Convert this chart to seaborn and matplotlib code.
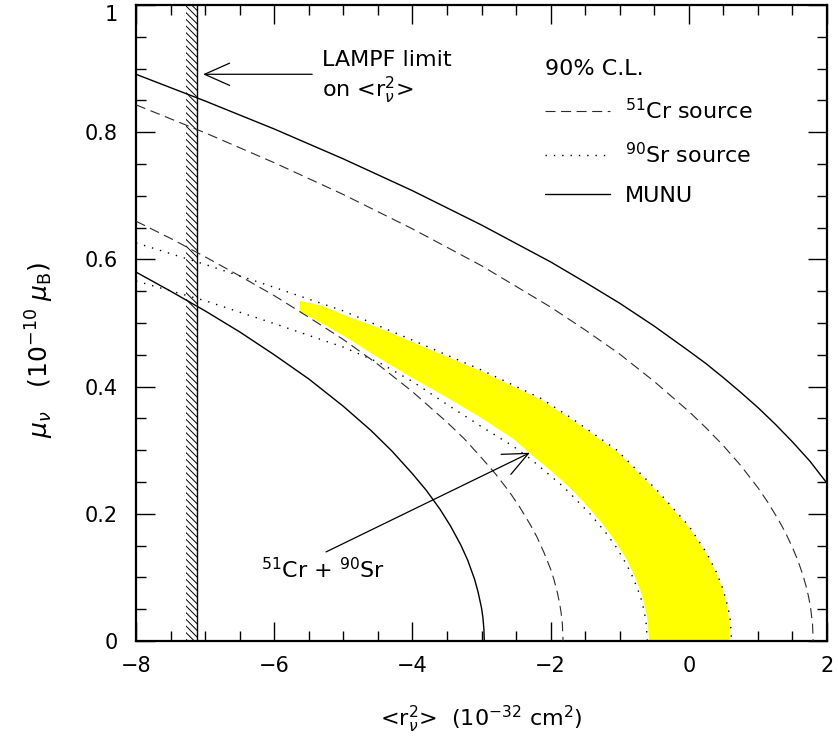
import numpy as np
import matplotlib
matplotlib.use('Agg')
import matplotlib.pyplot as plt
import seaborn as sns
from matplotlib.ticker import MultipleLocator, FixedLocator, FixedFormatter

# Curves (x = <r^2>, y = mu_nu)
CR_OUTER_X = [-8, -7, -6, -5, -4, -3, -2, -1.5, -1, -0.5, 0, 0.25, 0.5, 0.75, 1.0, 1.15,
              1.3, 1.4, 1.5, 1.58, 1.65, 1.7, 1.73, 1.76, 1.79, 1.8]
CR_OUTER_Y = [0.843, 0.799, 0.752, 0.702, 0.648, 0.590, 0.525, 0.489, 0.451, 0.408, 0.361,
              0.335, 0.307, 0.276, 0.241, 0.217, 0.190, 0.170, 0.147, 0.126, 0.104, 0.085,
              0.071, 0.054, 0.027, 0.0]
CR_INNER_X = [-8, -7.5, -7, -6.5, -6, -5.5, -5, -4.5, -4, -3.5, -3.25, -3, -2.8, -2.6,
              -2.45, -2.3, -2.2, -2.1, -2.0, -1.95, -1.9, -1.87, -1.85, -1.83, -1.82]
CR_INNER_Y = [0.660, 0.633, 0.604, 0.574, 0.543, 0.509, 0.474, 0.435, 0.392, 0.344, 0.318,
              0.288, 0.263, 0.235, 0.211, 0.184, 0.164, 0.140, 0.113, 0.096, 0.075, 0.059,
              0.046, 0.027, 0.0]
SR_UPPER_X = [-8, -7, -6, -5, -4, -3, -2.15, -1.72, -1.04, -0.46, 0.0, 0.26, 0.4, 0.5,
              0.57, 0.6, 0.62]
SR_UPPER_Y = [0.626, 0.592, 0.556, 0.519, 0.473, 0.426, 0.382, 0.352, 0.300, 0.237,
              0.181, 0.138, 0.108, 0.080, 0.051, 0.033, 0.0]
SR_LOWER_X = [-8, -7, -6, -5, -4.47, -4, -3.5, -3, -2.54, -2.3, -1.82, -1.43, -1.2,
              -1.04, -0.9, -0.8, -0.7, -0.65, -0.62, -0.6]
SR_LOWER_Y = [0.566, 0.535, 0.499, 0.462, 0.437, 0.408, 0.372, 0.337, 0.306, 0.287,
              0.243, 0.200, 0.170, 0.146, 0.120, 0.098, 0.070, 0.049, 0.031, 0.0]
MUNU_OUTER_X = [-8, -7, -6, -5, -4, -3, -2, -1.5, -1, -0.5, 0, 0.25, 0.5, 0.75, 1, 1.25,
                1.5, 1.75, 2]
MUNU_OUTER_Y = [0.891, 0.849, 0.805, 0.758, 0.708, 0.654, 0.596, 0.564, 0.531, 0.495,
                0.456, 0.436, 0.414, 0.391, 0.367, 0.341, 0.313, 0.283, 0.248]
MUNU_INNER_X = [-8, -7.5, -7, -6.5, -6, -5.5, -5, -4.6, -4.3, -4, -3.8, -3.6, -3.45, -3.3,
                -3.2, -3.1, -3.05, -3.0, -2.98, -2.965, -2.96]
MUNU_INNER_Y = [0.580, 0.550, 0.519, 0.486, 0.450, 0.412, 0.369, 0.331, 0.299, 0.263,
                0.237, 0.207, 0.181, 0.151, 0.127, 0.097, 0.077, 0.052, 0.037, 0.018, 0.0]

# combined 51Cr + 90Sr region (yellow)
BAND_TOP_X = [-5.63, -5.3, -4.95, -4.5, -4, -3, -2.15, -1.72, -1.04, -0.46, 0, 0.26,
              0.4, 0.5, 0.55, 0.58, 0.59]
BAND_TOP_Y = [0.535, 0.527, 0.511, 0.493, 0.470, 0.424, 0.380, 0.350, 0.298, 0.235,
              0.179, 0.136, 0.106, 0.078, 0.055, 0.035, 0.0]
BAND_LOW_X = [-0.576, -0.6, -0.65, -0.7, -0.8, -0.9, -1.04, -1.24, -1.5, -1.72, -2.0,
              -2.3, -2.54, -3.02, -3.5, -3.99, -4.47, -4.95, -5.3, -5.63]
BAND_LOW_Y = [0.0, 0.035, 0.061, 0.079, 0.106, 0.128, 0.153, 0.183, 0.216, 0.241, 0.268,
              0.295, 0.318, 0.352, 0.383, 0.413, 0.444, 0.477, 0.499, 0.518]

LAMPF_BAND = (-7.27, -7.12)

XTICKS = [-8, -6, -4, -2, 0, 2]
XTICK_LABELS = ['\u22128', '\u22126', '\u22124', '\u22122', '0', '2']
YTICKS = [0, 0.2, 0.4, 0.6, 0.8, 1.0]
YTICK_LABELS = ['0', '0.2', '0.4', '0.6', '0.8', '1']

sns.set_style('ticks')
plt.rcParams['font.family'] = ['DejaVu Sans']
plt.rcParams['mathtext.fontset'] = 'dejavusans'
plt.rcParams['hatch.linewidth'] = 0.7
for key in ['text.color', 'axes.labelcolor', 'xtick.color', 'ytick.color',
            'axes.edgecolor']:
    plt.rcParams[key] = 'black'

fig = plt.figure(figsize=(8.38, 7.51), dpi=100)
ax = fig.add_axes([0.1623, 0.1465, 0.8246, 0.8469])

# yellow allowed region
ax.fill(BAND_TOP_X + BAND_LOW_X, BAND_TOP_Y + BAND_LOW_Y, color='#ffff00', lw=0, zorder=1)

dash = (0, (9, 5))
dot = (0, (1, 5))
gray = '#2a2a2a'
sns.lineplot(x=CR_OUTER_X, y=CR_OUTER_Y, ax=ax, color=gray, lw=0.8, linestyle=dash,
             sort=False, estimator=None, zorder=3)
sns.lineplot(x=CR_INNER_X, y=CR_INNER_Y, ax=ax, color=gray, lw=0.8, linestyle=dash,
             sort=False, estimator=None, zorder=3)
sns.lineplot(x=SR_UPPER_X, y=SR_UPPER_Y, ax=ax, color='black', lw=1.0, linestyle=dot,
             sort=False, estimator=None, zorder=3)
sns.lineplot(x=SR_LOWER_X, y=SR_LOWER_Y, ax=ax, color='black', lw=1.0, linestyle=dot,
             sort=False, estimator=None, zorder=3)
sns.lineplot(x=MUNU_OUTER_X, y=MUNU_OUTER_Y, ax=ax, color='black', lw=1.0,
             sort=False, estimator=None, zorder=3)
sns.lineplot(x=MUNU_INNER_X, y=MUNU_INNER_Y, ax=ax, color='black', lw=1.0,
             sort=False, estimator=None, zorder=3)
lines = ax.get_lines()

# LAMPF limit: hatched band
ax.axvspan(LAMPF_BAND[0], LAMPF_BAND[1], fill=False, hatch='\\' * 5, lw=0,
           edgecolor='black', zorder=2)
ax.axvline(LAMPF_BAND[1], color='black', lw=1.0, zorder=2)

ax.set_xlim(-8, 2)
ax.set_ylim(0, 1)
ax.xaxis.set_major_locator(FixedLocator(XTICKS))
ax.xaxis.set_major_formatter(FixedFormatter(XTICK_LABELS))
ax.yaxis.set_major_locator(FixedLocator(YTICKS))
ax.yaxis.set_major_formatter(FixedFormatter(YTICK_LABELS))
ax.xaxis.set_minor_locator(MultipleLocator(0.5))
ax.yaxis.set_minor_locator(MultipleLocator(0.05))
ax.tick_params(which='both', direction='in', top=True, right=True, width=1.0,
               color='black')
ax.tick_params(which='major', length=14, labelsize=15)
ax.tick_params(axis='y', which='major', pad=13)
ax.tick_params(axis='x', which='major', pad=11)
ax.tick_params(which='minor', length=7)
for sp in ax.spines.values():
    sp.set_linewidth(1.6)
# keep the top "1" inside the figure
ax.yaxis.get_major_ticks()[-1].label1.set_va('top')

ax.set_xlabel(r'<r$_\nu^2$>  (10$^{-32}$ cm$^2$)', fontsize=16, va='center')
ax.xaxis.set_label_coords(0.5, -0.124)
ax.set_ylabel(r'$\mu_\nu$   (10$^{-10}$ $\mu_{\rm B}$)', fontsize=18, va='center')
ax.yaxis.set_label_coords(-0.139, 0.4575)

# annotations
ax.text(-5.31, 0.914, 'LAMPF limit', fontsize=16, va='center', ha='left')
ax.text(-5.31, 0.866, r'on <r$_\nu^2$>', fontsize=16, va='center', ha='left')
ax.annotate('', xy=(-7.03, 0.891), xytext=(-5.45, 0.891),
            arrowprops=dict(arrowstyle='->,head_length=0.9,head_width=0.4', lw=0.9,
                            color='black', shrinkA=0, shrinkB=0, mutation_scale=20))
ax.text(-5.29, 0.112, r'$^{51}$Cr + $^{90}$Sr', fontsize=16, va='center', ha='center')
ax.annotate('', xy=(-2.30, 0.296), xytext=(-5.25, 0.140),
            arrowprops=dict(arrowstyle='->,head_length=0.9,head_width=0.4', lw=0.9,
                            color='black', shrinkA=0, shrinkB=0, mutation_scale=20))

leg = ax.legend([lines[0], lines[2], lines[4]],
                [r'$^{51}$Cr source', r'$^{90}$Sr source', 'MUNU'],
                title='90% C.L.', title_fontsize=16, fontsize=16, alignment='left',
                loc='upper left', bbox_to_anchor=(0.592, 0.915), frameon=False,
                borderpad=0, borderaxespad=0, handlelength=2.9, handletextpad=0.68,
                labelspacing=0.85)

fig.savefig('out.png', dpi=100)
